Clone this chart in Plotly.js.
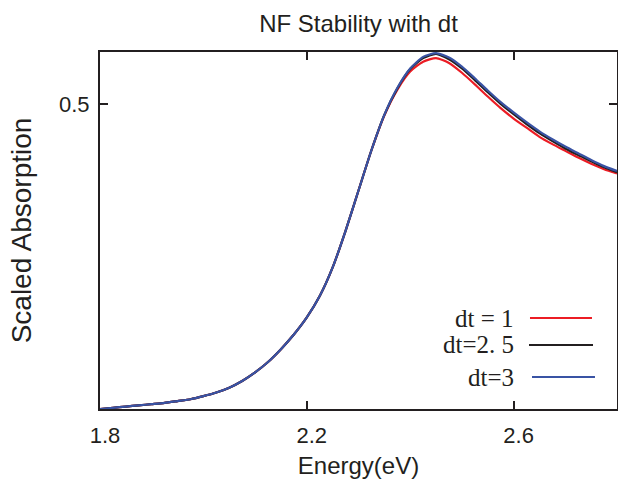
<!DOCTYPE html>
<html>
<head>
<meta charset="utf-8">
<script src="https://cdn.plot.ly/plotly-3.0.1.min.js"></script>
<style>html,body{margin:0;padding:0;background:#fff;}#chart{width:618px;height:482px;}</style>
</head>
<body>
<div id="chart"></div>
<script>
// Energy grid (eV)
const energy = [1.800,1.825,1.850,1.875,1.900,1.925,1.950,1.975,2.000,2.025,2.050,2.075,2.100,2.125,2.150,2.175,2.200,2.225,2.250,2.275,2.300,2.325,2.350,2.375,2.400,2.425,2.450,2.475,2.500,2.525,2.550,2.575,2.600,2.625,2.650,2.675,2.700,2.725,2.750,2.775,2.800];

const absDt1 = [0.000,0.002,0.004,0.006,0.008,0.010,0.013,0.016,0.021,0.027,0.035,0.046,0.060,0.077,0.098,0.122,0.150,0.185,0.232,0.292,0.358,0.424,0.481,0.523,0.553,0.569,0.575,0.567,0.551,0.532,0.512,0.493,0.476,0.461,0.446,0.434,0.423,0.412,0.402,0.393,0.386];
const absDt25 = [0.000,0.002,0.004,0.006,0.008,0.010,0.013,0.016,0.021,0.027,0.035,0.046,0.060,0.077,0.098,0.122,0.150,0.185,0.232,0.292,0.358,0.424,0.482,0.525,0.557,0.575,0.582,0.573,0.558,0.539,0.519,0.500,0.483,0.467,0.452,0.439,0.427,0.416,0.406,0.396,0.388];
const absDt3 = [0.000,0.002,0.004,0.006,0.008,0.010,0.013,0.016,0.021,0.027,0.035,0.046,0.060,0.077,0.098,0.122,0.150,0.185,0.232,0.292,0.358,0.424,0.482,0.526,0.558,0.577,0.583,0.576,0.561,0.542,0.522,0.503,0.486,0.470,0.455,0.442,0.430,0.419,0.408,0.398,0.390];

const seriesNames = ["dt = 1", "dt=2. 5", "dt=3"];
const seriesColors = ["#ec1c24", "#231f20", "#3953a4"];
const xTicks = [1.8, 2.2, 2.6];
const xTickText = ["1.8", "2.2", "2.6"];
const yTicks = [0.5];
const yTickText = ["0.5"];

const ys = [absDt1, absDt25, absDt3];
const traces = ys.map((y, i) => ({
  x: energy, y: y, type: "scatter", mode: "lines", name: seriesNames[i],
  line: {color: seriesColors[i], width: 2.2, shape: "spline", smoothing: 0.6}, showlegend: false
}));

// legend drawn manually: text right-aligned, sample line on the right
const legY = [0.2549, 0.1793, 0.0896];
const annotations = seriesNames.map((n, i) => ({
  text: n, xref: "paper", yref: "paper", x: 0.804, y: legY[i],
  xanchor: "right", yanchor: "middle", showarrow: false,
  font: {family: "Liberation Serif, Times New Roman, serif", size: 25, color: "#231f20"}
}));
const legX0 = [0.8317, 0.8298, 0.8356];
const legX1 = [0.9516, 0.9536, 0.9574];
const shapes = seriesNames.map((n, i) => ({
  type: "line", xref: "paper", yref: "paper", x0: legX0[i], x1: legX1[i], y0: legY[i], y1: legY[i],
  line: {color: seriesColors[i], width: 2}
}));

const axisCommon = {
  showline: true, linecolor: "#231f20", linewidth: 2, mirror: "ticks",
  ticks: "inside", ticklen: 8, tickwidth: 2, tickcolor: "#231f20",
  showgrid: false, zeroline: false,
  tickfont: {family: "Liberation Sans, Arial, sans-serif", size: 22, color: "#231f20"}
};

const layout = {
  width: 618, height: 482,
  margin: {l: 100, r: 1, t: 52, b: 73},
  paper_bgcolor: "#fff", plot_bgcolor: "#fff",
  title: {text: "NF Stability with dt", x: 0.5, xref: "paper", y: 1 - 24/482, yref: "container", yanchor: "middle",
          font: {family: "Liberation Sans, Arial, sans-serif", size: 24, color: "#231f20"}},
  xaxis: Object.assign({}, axisCommon, {
    range: [1.8, 2.8], tickvals: xTicks, ticktext: xTickText,
    ticklabelstandoff: 6, ticklabelshift: 5,
    title: {text: "Energy(eV)", standoff: 10, font: {family: "Liberation Sans, Arial, sans-serif", size: 24, color: "#231f20"}}
  }),
  yaxis: Object.assign({}, axisCommon, {
    range: [0, 0.585], tickvals: yTicks, ticktext: yTickText,
    ticklabelstandoff: 4,
    title: {text: "Scaled Absorption", standoff: 19, font: {family: "Liberation Sans, Arial, sans-serif", size: 28, color: "#231f20"}}
  }),
  annotations: annotations,
  shapes: shapes
};

Plotly.newPlot("chart", traces, layout, {displayModeBar: false, staticPlot: true});
</script>
</body>
</html>
